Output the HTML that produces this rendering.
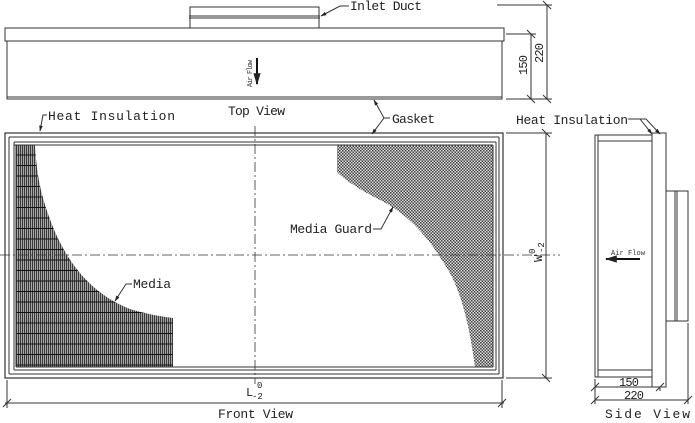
<!DOCTYPE html>
<html><head><style>html,body{margin:0;padding:0;background:#fff}svg{display:block}</style></head>
<body>
<svg width="695" height="423" viewBox="0 0 695 423" xmlns="http://www.w3.org/2000/svg" font-family="'Liberation Mono', monospace" fill="none" stroke="#333" stroke-width="1">
<defs>
<pattern id="med" width="2" height="10.5" patternUnits="userSpaceOnUse" x="16" y="145">
<rect width="2" height="10.5" fill="#bbb" stroke="none"/>
<line x1="0.6" y1="0" x2="0.6" y2="10.5" stroke="#333" stroke-width="1.1"/>
<line x1="0" y1="10" x2="2" y2="10" stroke="#111" stroke-width="1"/>
</pattern>
<pattern id="grd" width="3" height="3" patternUnits="userSpaceOnUse">
<rect width="3" height="3" fill="#ddd" stroke="none"/>
<rect width="1.5" height="1.5" fill="#444" stroke="none"/>
<rect x="1.5" y="1.5" width="1.5" height="1.5" fill="#444" stroke="none"/>
</pattern>
<marker id="ar" viewBox="0 0 10 10" refX="9" refY="5" markerWidth="6" markerHeight="6" orient="auto"><path d="M0,2 L10,5 L0,8z" fill="#222" stroke="none"/></marker>
</defs>

<!-- TOP VIEW -->
<rect x="190" y="7" width="129" height="21"/>
<line x1="189" y1="16" x2="320" y2="16"/><line x1="189" y1="18" x2="320" y2="18"/>
<rect x="5" y="28" width="499" height="13"/>
<rect x="7" y="41" width="495" height="58"/>
<line x1="7" y1="97" x2="502" y2="97"/>
<line x1="257" y1="58" x2="257" y2="84" stroke="#111" stroke-width="2" marker-end="url(#ar)"/>
<text x="0" y="0" transform="translate(252,87) rotate(-90)" font-size="7" fill="#333" stroke="none" textLength="27">Air Flow</text>
<text x="228" y="115" font-size="13" fill="#222" stroke="none" textLength="57">Top View</text>
<!-- dims top -->
<line x1="506" y1="34" x2="536" y2="34"/><line x1="506" y1="99" x2="552" y2="99"/><line x1="497" y1="5" x2="552" y2="5"/>
<line x1="531" y1="34" x2="531" y2="99"/><line x1="547" y1="5" x2="547" y2="99"/>
<path d="M527,30 l8,8 M527,95 l8,8 M543,1 l8,8 M543,95 l8,8"/>
<text transform="translate(527,75) rotate(-90)" font-size="12" fill="#222" stroke="none" textLength="20">150</text>
<text transform="translate(543,63) rotate(-90)" font-size="12" fill="#222" stroke="none" textLength="20">220</text>
<!-- inlet duct label -->
<path d="M349,6 L340,6 L321,16" marker-end="url(#ar)"/>
<text x="350" y="10" font-size="13" fill="#222" stroke="none" textLength="72">Inlet Duct</text>

<!-- FRONT VIEW -->
<path d="M16,145 L35,145 C37,180 42,200 55,232 C72,270 95,295 130,309 C150,315 165,317 173,318 L173,367 L16,367z" fill="url(#med)" stroke="none"/>
<path d="M337,145 L493,145 L493,367 L475,367 C470,330 462,290 445,265 C430,240 410,215 380,200 C360,190 345,180 337,172z" fill="url(#grd)" stroke="none"/>
<rect x="5" y="133" width="498" height="245" stroke-width="1.2"/>
<line x1="9" y1="137" x2="499" y2="137"/>
<line x1="14" y1="142" x2="496" y2="142"/><line x1="14" y1="145" x2="493" y2="145"/>
<line x1="9" y1="137" x2="9" y2="374"/><line x1="9" y1="374" x2="499" y2="374"/><line x1="499" y1="137" x2="499" y2="374"/>
<line x1="14" y1="142" x2="14" y2="370"/><line x1="16" y1="145" x2="16" y2="367"/>
<line x1="14" y1="370" x2="496" y2="370"/><line x1="16" y1="367" x2="493" y2="367"/>
<line x1="496" y1="142" x2="496" y2="370"/><line x1="493" y1="145" x2="493" y2="367"/>
<!-- centerlines -->
<line x1="255" y1="126" x2="255" y2="384" stroke-dasharray="10,3,2,3" stroke-width="0.8"/>
<line x1="0" y1="255" x2="560" y2="255" stroke-dasharray="10,3,2,3" stroke-width="0.8"/>
<!-- labels -->
<path d="M47,115 L43,115 L40,131" marker-end="url(#ar)"/>
<text x="48" y="120" font-size="13" fill="#222" stroke="none" textLength="127">Heat Insulation</text>
<path d="M390,118 L384,118 L374,100" marker-end="url(#ar)"/>
<path d="M384,118 L372,134" marker-end="url(#ar)"/>
<text x="392" y="123" font-size="13" fill="#222" stroke="none" textLength="43">Gasket</text>
<path d="M132,284 L126,284 L115,301" marker-end="url(#ar)"/>
<text x="133" y="288" font-size="13" fill="#222" stroke="none" textLength="38">Media</text>
<path d="M373,229 L381,229 L393,207" marker-end="url(#ar)"/>
<text x="290" y="233" font-size="13" fill="#222" stroke="none" textLength="82">Media Guard</text>
<!-- W dim -->
<line x1="506" y1="133" x2="552" y2="133"/><line x1="506" y1="378" x2="552" y2="378"/>
<line x1="546" y1="133" x2="546" y2="378"/>
<path d="M542,129 l8,8 M542,374 l8,8"/>
<text transform="translate(542,262) rotate(-90)" font-size="12" fill="#222" stroke="none">W</text>
<text transform="translate(535,254) rotate(-90)" font-size="9" fill="#222" stroke="none">0</text>
<text transform="translate(544,253) rotate(-90)" font-size="9" fill="#222" stroke="none">-2</text>
<!-- L dim -->
<line x1="7" y1="380" x2="7" y2="408"/><line x1="502" y1="380" x2="502" y2="408"/>
<line x1="5" y1="403" x2="504" y2="403"/>
<path d="M3,407 l8,-8 M498,407 l8,-8"/>
<text x="246" y="396" font-size="12" fill="#222" stroke="none">L</text>
<text x="257" y="388" font-size="9" fill="#222" stroke="none">0</text>
<text x="252" y="399" font-size="9" fill="#222" stroke="none">-2</text>
<text x="218" y="418" font-size="13" fill="#222" stroke="none" textLength="75">Front View</text>

<!-- SIDE VIEW -->
<rect x="595" y="135" width="57" height="242"/>
<line x1="598" y1="135" x2="598" y2="377"/>
<line x1="598" y1="141" x2="652" y2="141"/><line x1="598" y1="370" x2="652" y2="370"/>
<rect x="652" y="133" width="14" height="254"/>
<rect x="666" y="191" width="22" height="130"/>
<line x1="675" y1="191" x2="675" y2="321"/><line x1="677" y1="191" x2="677" y2="321"/>
<line x1="640" y1="259" x2="606" y2="259" stroke="#111" stroke-width="2" marker-end="url(#ar)"/>
<text x="611" y="255" font-size="7" fill="#333" stroke="none" textLength="34">Air Flow</text>
<path d="M628,119 L640,119 L652,134" marker-end="url(#ar)"/>
<path d="M640,119 L646,119 L660,134" marker-end="url(#ar)"/>
<text x="516" y="124" font-size="13" fill="#222" stroke="none" textLength="112">Heat Insulation</text>
<line x1="595" y1="379" x2="595" y2="404"/><line x1="660" y1="388" x2="660" y2="391"/><line x1="688" y1="323" x2="688" y2="404"/>
<line x1="595" y1="387" x2="660" y2="387"/><line x1="595" y1="400" x2="688" y2="400"/>
<path d="M591,391 l8,-8 M656,391 l8,-8 M591,404 l8,-8 M684,404 l8,-8"/>
<text x="619" y="386" font-size="12" fill="#222" stroke="none" textLength="20">150</text>
<text x="624" y="399" font-size="12" fill="#222" stroke="none" textLength="20">220</text>
<text x="605" y="418" font-size="13" fill="#222" stroke="none" textLength="85">Side View</text>
</svg>
</body></html>
